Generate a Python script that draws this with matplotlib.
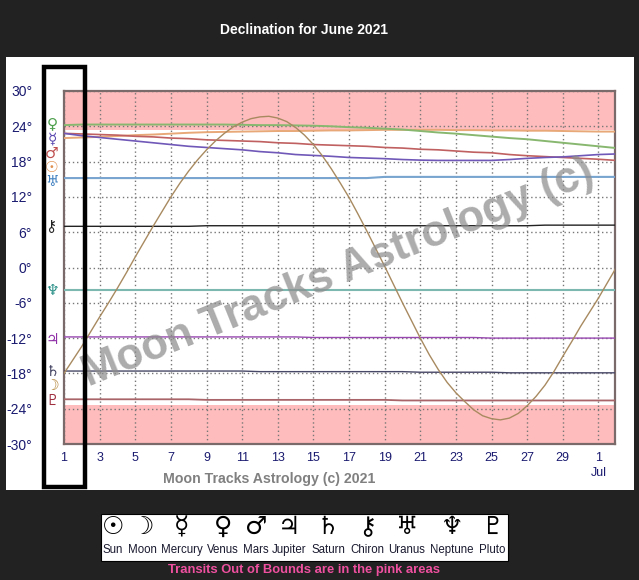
import matplotlib
matplotlib.use("Agg")
from matplotlib import pyplot as plt
from matplotlib.patches import Rectangle

W, H = 639, 580

days = list(range(1, 33))
moon_days = [d / 2 for d in range(2, 65)]
moon = [-18, -15.7, -13.4, -10.9, -8.4, -6, -3.5, -0.9, 1.8, 4.4, 7, 9.5, 12, 14.3, 16.4, 18.3,
        20, 21.5, 22.8, 23.9, 24.7, 25.3, 25.6, 25.7, 25.4, 24.8, 23.8, 22.5, 20.9, 19, 16.8, 14.4,
        11.9, 9.1, 6.2, 3.2, 0.2, -2.9, -6, -9, -12, -14.8, -17.3, -19.5, -21.3, -22.8, -24.2, -25.2,
        -25.7, -25.9, -25.6, -24.8, -23.5, -21.9, -20, -17.7, -15.1, -12.6, -10, -7.6, -5.2, -2.6, 0]
sun = [22, 22.1, 22.2, 22.35, 22.5, 22.6, 22.75, 22.9, 23, 23.05, 23.1, 23.15, 23.2, 23.2, 23.25, 23.3,
       23.3, 23.35, 23.4, 23.4, 23.4, 23.4, 23.35, 23.35, 23.3, 23.3, 23.25, 23.25, 23.2, 23.15, 23.1, 23.1]
mercury = [22.8, 22.4, 22.1, 21.8, 21.5, 21.2, 20.9, 20.6, 20.4, 20.2, 20, 19.7, 19.5, 19.2, 19.05, 18.9,
           18.7, 18.6, 18.5, 18.35, 18.25, 18.2, 18.2, 18.2, 18.2, 18.35, 18.55, 18.7, 18.8, 19, 19.2, 19.3]
venus = [24.2, 24.3, 24.3, 24.3, 24.3, 24.3, 24.3, 24.3, 24.3, 24.3, 24.25, 24.2, 24.2, 24.15, 24.1, 24,
         23.85, 23.75, 23.6, 23.45, 23.2, 22.95, 22.75, 22.5, 22.25, 22, 21.8, 21.5, 21.2, 20.9, 20.6, 20.3]
mars = [22.8, 22.7, 22.6, 22.5, 22.3, 22.2, 22, 21.9, 21.7, 21.6, 21.5, 21.4, 21.2, 21.1, 20.9, 20.8,
        20.7, 20.6, 20.4, 20.3, 20.1, 20, 19.8, 19.6, 19.5, 19.2, 19, 18.85, 18.7, 18.55, 18.4, 18.2]
jupiter = [-11.8, -11.8, -11.8, -11.8, -11.8, -11.8, -11.8, -11.8, -11.8, -11.8, -11.8, -11.8, -11.8, -11.8, -11.9, -11.9,
           -11.9, -11.9, -11.9, -11.9, -11.9, -11.9, -11.9, -11.9, -12, -12, -12, -12, -12, -12, -12, -12]
saturn = [-17.6, -17.6, -17.6, -17.6, -17.6, -17.6, -17.6, -17.6, -17.6, -17.6, -17.6, -17.7, -17.7, -17.7, -17.7, -17.7,
          -17.7, -17.7, -17.7, -17.7, -17.8, -17.8, -17.8, -17.8, -17.8, -17.9, -17.9, -17.9, -17.9, -17.9, -17.9, -17.9]
chiron = [7, 7, 7, 7, 7, 7, 7, 7, 7.1, 7.1, 7.1, 7.1, 7.1, 7.1, 7.1, 7.1,
          7.1, 7.1, 7.1, 7.1, 7.1, 7.1, 7.1, 7.1, 7.1, 7.1, 7.1, 7.2, 7.2, 7.2, 7.2, 7.2]
uranus = [15.2, 15.2, 15.2, 15.2, 15.2, 15.2, 15.2, 15.2, 15.2, 15.2, 15.2, 15.2, 15.2, 15.2, 15.2, 15.2,
          15.2, 15.2, 15.4, 15.4, 15.4, 15.4, 15.4, 15.4, 15.4, 15.4, 15.4, 15.4, 15.4, 15.4, 15.4, 15.4]
neptune = [-3.85] * 32
pluto = [-22.4, -22.4, -22.4, -22.4, -22.4, -22.4, -22.4, -22.4, -22.5, -22.5, -22.5, -22.5, -22.5, -22.5, -22.5, -22.5,
         -22.5, -22.5, -22.5, -22.6, -22.6, -22.6, -22.6, -22.6, -22.6, -22.6, -22.6, -22.6, -22.6, -22.6, -22.6, -22.6]

y_ticks = [30, 24, 18, 12, 6, 0, -6, -12, -18, -24, -30]
x_ticks = list(range(1, 32, 2))
x_labels = [str(d) for d in range(1, 30, 2)] + ["1\nJul"]
oob_limit = 23.44

legend_glyphs = ["☉", "☽", "☿", "♀", "♂", "♃", "♄", "⚷", "♅", "♆", "♇"]
legend_names = ["Sun", "Moon", "Mercury", "Venus", "Mars", "Jupiter", "Saturn", "Chiron", "Uranus", "Neptune", "Pluto"]
legend_x = [113, 142, 182, 223, 256, 289, 328, 367, 407, 452, 492]

# glyph, colour and pixel height of the column of symbols next to the axis
side_glyphs = ["♀", "☿", "♂", "☉", "♅", "⚷", "♆", "♃", "♄", "☽", "♇"]
side_colors = ["#4fa04f", "#5a48b0", "#c05050", "#e09050", "#4080c0", "#222222",
               "#2a9088", "#9030a8", "#404060", "#b08030", "#a03040"]
side_y = [124, 139, 153, 168, 181, 227, 291, 339, 371, 386, 400]

plt.rcParams["font.family"] = ["Liberation Sans", "DejaVu Sans"]

fig = plt.figure(figsize=(W / 100, H / 100), dpi=100, facecolor="#222222")

def px_box(x0, y0, x1, y1):
    return [x0 / W, 1 - y1 / H, (x1 - x0) / W, (y1 - y0) / H]

def px_text(x, y, s, **kw):
    return fig.text(x / W, 1 - y / H, s, ha=kw.pop("ha", "center"), va=kw.pop("va", "center"), **kw)

def px_rect(x0, y0, x1, y1, **kw):
    fig.add_artist(Rectangle((x0 / W, 1 - y1 / H), (x1 - x0) / W, (y1 - y0) / H,
                             transform=fig.transFigure, **kw))

px_rect(6, 57, 634, 490, facecolor="white", edgecolor="none", zorder=-1)

ax = fig.add_axes(px_box(64, 91, 615, 444))
ax.set_xlim(1, 31.93)
ax.set_ylim(-30, 30)
ax.axhspan(oob_limit, 30, color="#ffbcbc", lw=0, zorder=0)
ax.axhspan(-30, -oob_limit, color="#ffbcbc", lw=0, zorder=0)
ax.grid(True, color="#777777", ls=(0, (1, 2)), lw=1, zorder=1)
ax.set_axisbelow(True)

ax.set_xticks(x_ticks)
ax.set_xticklabels(x_labels, color="#1a1a70", fontsize=9, linespacing=1.35)
ax.set_yticks(y_ticks)
ax.set_yticklabels([f"{v}°" for v in y_ticks], color="#1a1a70", fontsize=10)
ax.tick_params(length=0)
ax.tick_params(axis="x", pad=6)
ax.tick_params(axis="y", pad=23)
for s in ax.spines.values():
    s.set_color("#7a6a6a")
    s.set_linewidth(1.6)

ax.plot(days, neptune, color="#7cb8b0", lw=1.5, zorder=3)
ax.plot(days, uranus, color="#78a4d0", lw=1.5, zorder=3)
ax.plot(days, chiron, color="#222222", lw=1.0, zorder=3)
ax.plot(days, jupiter, color="#9848b0", lw=1.0, zorder=3)
ax.plot(days, saturn, color="#484868", lw=1.0, zorder=3)
ax.plot(days, pluto, color="#a86468", lw=1.3, zorder=3)
ax.plot(days, sun, color="#e8a878", lw=1.4, zorder=3)
ax.plot(days, venus, color="#88b870", lw=1.4, zorder=3)
ax.plot(days, mars, color="#c06060", lw=1.2, zorder=3)
ax.plot(days, mercury, color="#7058b8", lw=1.2, zorder=3)
ax.plot(moon_days, moon, color="#a88a60", lw=1.0, zorder=4)

px_text(338, 273, "Moon Tracks Astrology (c)", color="#8c8c8c", alpha=0.72, fontsize=31.5,
        fontweight="bold", rotation=22, rotation_mode="anchor", zorder=6)
px_text(163, 479, "Moon Tracks Astrology (c) 2021", color="#808080", fontsize=10.2,
        fontweight="bold", ha="left")

for g, c, y in zip(side_glyphs, side_colors, side_y):
    px_text(52, y, g, color=c, fontsize=11, family="DejaVu Sans")

px_rect(44, 67, 85, 487, facecolor="none", edgecolor="black", linewidth=3.2, zorder=7)

px_text(304, 30, "Declination for June 2021", color="white", fontsize=10, fontweight="bold")

px_rect(101, 514, 508, 561, facecolor="white", edgecolor="black", linewidth=0.8)
for g, n, x in zip(legend_glyphs, legend_names, legend_x):
    px_text(x, 527, g, color="black", fontsize=18, fontweight="bold", family="DejaVu Sans")
    px_text(x, 553, n, color="#1a1a30", fontsize=8.3, va="baseline")

px_text(304, 570, "Transits Out of Bounds are in the pink areas", color="#f050a0", fontsize=9.4,
        fontweight="bold")

plt.savefig("out.png", dpi=100, facecolor=fig.get_facecolor())
